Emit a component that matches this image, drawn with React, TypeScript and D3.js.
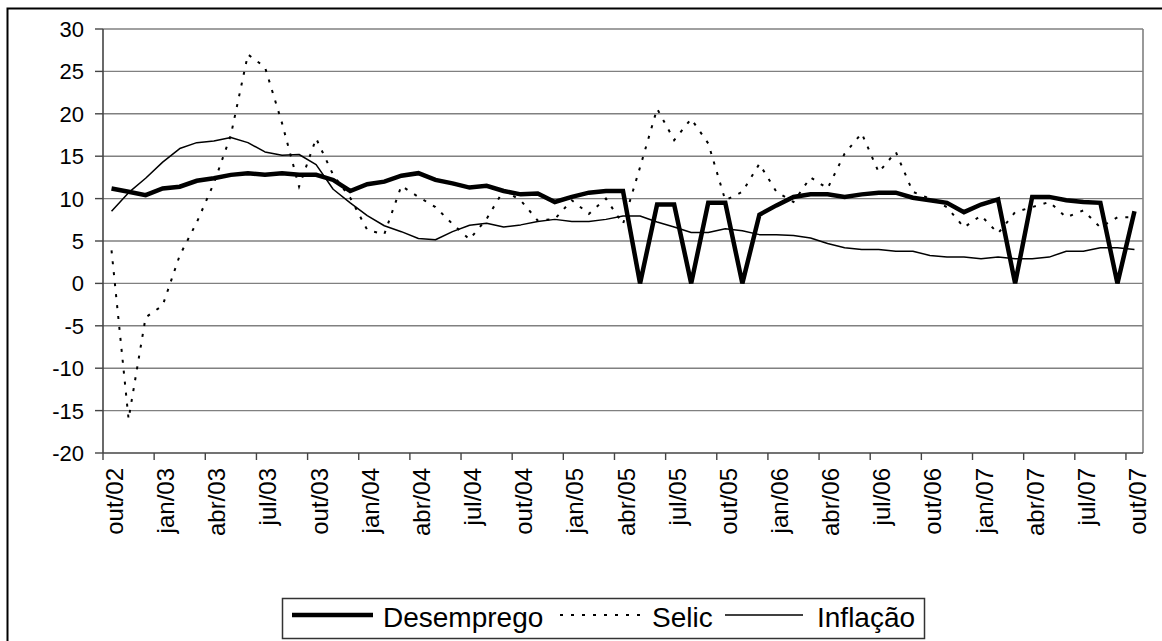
import * as d3 from 'd3';

const categories = [
  'out/02', 'nov/02', 'dez/02', 'jan/03', 'fev/03', 'mar/03', 'abr/03', 'mai/03', 'jun/03', 'jul/03', 'ago/03', 'set/03',
  'out/03', 'nov/03', 'dez/03', 'jan/04', 'fev/04', 'mar/04', 'abr/04', 'mai/04', 'jun/04', 'jul/04', 'ago/04', 'set/04',
  'out/04', 'nov/04', 'dez/04', 'jan/05', 'fev/05', 'mar/05', 'abr/05', 'mai/05', 'jun/05', 'jul/05', 'ago/05', 'set/05',
  'out/05', 'nov/05', 'dez/05', 'jan/06', 'fev/06', 'mar/06', 'abr/06', 'mai/06', 'jun/06', 'jul/06', 'ago/06', 'set/06',
  'out/06', 'nov/06', 'dez/06', 'jan/07', 'fev/07', 'mar/07', 'abr/07', 'mai/07', 'jun/07', 'jul/07', 'ago/07', 'set/07',
  'out/07',
];

// every third month carries a label
const tickLabels = [
  'out/02', 'jan/03', 'abr/03', 'jul/03', 'out/03', 'jan/04', 'abr/04', 'jul/04', 'out/04', 'jan/05', 'abr/05',
  'jul/05', 'out/05', 'jan/06', 'abr/06', 'jul/06', 'out/06', 'jan/07', 'abr/07', 'jul/07', 'out/07',
];

const yTicks = [30, 25, 20, 15, 10, 5, 0, -5, -10, -15, -20];

const desemprego = [
  11.2, 10.8, 10.4, 11.2, 11.4, 12.1, 12.4, 12.8, 13.0, 12.8, 13.0, 12.8,
  12.8, 12.2, 10.9, 11.7, 12.0, 12.7, 13.0, 12.2, 11.8, 11.3, 11.5, 10.9,
  10.5, 10.6, 9.6, 10.2, 10.7, 10.9, 10.9, 0, 9.3, 9.3, 0, 9.5,
  9.5, 0, 8.1, 9.2, 10.2, 10.5, 10.5, 10.2, 10.5, 10.7, 10.7, 10.1,
  9.8, 9.5, 8.4, 9.3, 9.9, 0, 10.2, 10.2, 9.8, 9.6, 9.5, 0,
  8.5,
];

const selic = [
  3.9, -16.0, -4.0, -2.6, 3.3, 7.2, 11.8, 17.5, 27.0, 25.5, 18.9, 11.4,
  17.1, 12.8, 10.1, 6.3, 5.8, 11.5, 10.2, 9.0, 7.0, 5.2, 7.6, 11.0,
  9.8, 7.4, 7.6, 9.8, 8.2, 10.0, 7.0, 13.7, 20.6, 16.9, 19.4, 16.5,
  9.8, 10.8, 14.1, 10.8, 9.6, 12.5, 11.2, 15.3, 17.7, 13.1, 15.5, 10.8,
  10.0, 9.0, 6.6, 8.0, 5.9, 8.4, 9.0, 9.6, 7.8, 8.6, 6.6, 7.8,
  7.8,
];

const inflacao = [
  8.5, 10.7, 12.4, 14.3, 15.9, 16.6, 16.8, 17.2, 16.6, 15.5, 15.1, 15.2,
  14.0, 11.1, 9.5, 8.0, 6.8, 6.1, 5.3, 5.15, 6.1, 6.85, 7.1, 6.65,
  6.9, 7.3, 7.55, 7.3, 7.3, 7.55, 7.95, 7.95, 7.25, 6.65, 6.0, 6.0,
  6.45, 6.2, 5.75, 5.75, 5.65, 5.35, 4.7, 4.2, 4.0, 4.0, 3.8, 3.8,
  3.3, 3.1, 3.1, 2.9, 3.1, 2.9, 2.9, 3.1, 3.8, 3.8, 4.2, 4.2,
  4.0,
];

const FONT = "'Liberation Sans', Arial, sans-serif";
const GRID = '#808080';

export default function App() {
  const width = 1162;
  const height = 641;
  const plot = { left: 103, right: 1143, top: 29, bottom: 453 };

  const x = d3.scaleBand<string>().domain(categories).range([plot.left, plot.right]).paddingInner(0).paddingOuter(0);
  const y = d3.scaleLinear().domain([-20, 30]).range([plot.bottom, plot.top]);
  const cx = (i: number) => (x(categories[i]) ?? 0) + x.bandwidth() / 2;

  const line = d3
    .line<number>()
    .x((_, i) => cx(i))
    .y((v) => y(v));

  return (
    <svg
      width={width}
      height={height}
      style={{ position: 'absolute', left: 0, top: 0, background: '#fff' }}
      fontFamily={FONT}
    >
      <rect x={7.5} y={8.5} width={1200} height={700} fill="#fff" stroke="#000" strokeWidth={2} />

      {/* grid and y axis */}
      {yTicks.map((t) => (
        <g key={t}>
          {t !== -20 && (
            <line x1={plot.left} x2={plot.right} y1={y(t)} y2={y(t)} stroke={GRID} strokeWidth={1.4} />
          )}
          <line x1={plot.left - 8} x2={plot.left} y1={y(t)} y2={y(t)} stroke="#444" strokeWidth={1.4} />
          <text x={84} y={y(t)} dy="0.36em" textAnchor="end" fontSize={22} fill="#000">
            {t}
          </text>
        </g>
      ))}
      <line x1={plot.right} x2={plot.right} y1={plot.top} y2={plot.bottom} stroke={GRID} strokeWidth={1.6} />
      <line x1={plot.left} x2={plot.left} y1={plot.top} y2={plot.bottom} stroke="#444" strokeWidth={1.6} />
      <line x1={plot.left} x2={plot.right} y1={plot.bottom} y2={plot.bottom} stroke="#444" strokeWidth={1.6} />

      {/* x axis ticks and labels */}
      {tickLabels.map((label) => {
        const bx = x(label) ?? 0;
        const c = bx + x.bandwidth() / 2;
        return (
          <g key={label}>
            <line x1={bx} x2={bx} y1={plot.bottom} y2={plot.bottom + 7} stroke="#444" strokeWidth={1.4} />
            <text
              transform={`translate(${c},${plot.bottom + 15}) rotate(-90)`}
              textAnchor="end"
              dy="0.48em"
              fontSize={24}
              fill="#000"
            >
              {label}
            </text>
          </g>
        );
      })}

      {/* series */}
      <path d={line(inflacao) ?? ''} fill="none" stroke="#000" strokeWidth={1.5} strokeLinejoin="round" />
      <path d={line(selic) ?? ''} fill="none" stroke="#000" strokeWidth={2} strokeDasharray="3,8" />
      <path d={line(desemprego) ?? ''} fill="none" stroke="#000" strokeWidth={4.5} strokeLinejoin="miter" />

      {/* legend */}
      <rect x={282.5} y={598.5} width={642} height={40} fill="#fff" stroke="#333" strokeWidth={1.5} />
      <line x1={292} x2={373} y1={615} y2={615} stroke="#000" strokeWidth={4.5} />
      <text x={383} y={627} fontSize={28}>Desemprego</text>
      <line x1={560} x2={640} y1={615} y2={615} stroke="#000" strokeWidth={2} strokeDasharray="3,8" />
      <text x={652} y={627} fontSize={28}>Selic</text>
      <line x1={725} x2={803} y1={615} y2={615} stroke="#000" strokeWidth={1.5} />
      <text x={817} y={627} fontSize={28}>Inflação</text>
    </svg>
  );
}
